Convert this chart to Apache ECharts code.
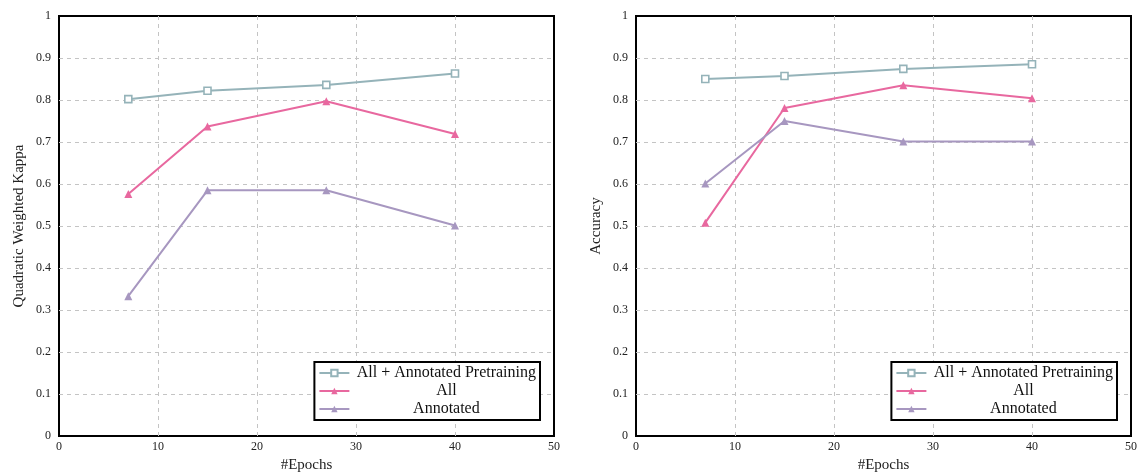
<!DOCTYPE html>
<html>
<head>
<meta charset="utf-8">
<script src="https://cdn.jsdelivr.net/npm/echarts@6/dist/echarts.min.js"></script>
<style>
	html, body { margin: 0; padding: 0; background: #fff; }
	#main { width: 1138px; height: 472px; }
</style>
</head>
<body>
<div id="main"></div>
<script>
	"use strict";
	// DATA
	var epochs = [7, 15, 27, 40];
	var seriesNames = ['All + Annotated Pretraining', 'All', 'Annotated'];
	var kappaPretrain = [0.802, 0.822, 0.836, 0.863];
	var kappaAll = [0.576, 0.737, 0.797, 0.719];
	var kappaAnnotated = [0.333, 0.585, 0.585, 0.501];
	var accPretrain = [0.850, 0.857, 0.874, 0.885];
	var accAll = [0.508, 0.781, 0.835, 0.804];
	var accAnnotated = [0.601, 0.750, 0.701, 0.701];

	var colors = ['#95b3b9', '#e8689f', '#a797c0'];
	var symbols = ['rect', 'triangle', 'triangle'];
	var font = '"Liberation Serif", "DejaVu Serif", serif';

	function pairs(vals) {
		return epochs.map(function(x, i) { return [x, vals[i]]; });
	}

	function makeSeries(idx, sets) {
		return sets.map(function(vals, i) {
			return {
				name: seriesNames[i],
				type: 'line',
				xAxisIndex: idx,
				yAxisIndex: idx,
				data: pairs(vals),
				symbol: symbols[i],
				symbolSize: i === 0 ? 7 : 8,
				lineStyle: { width: 2, color: colors[i] },
				itemStyle: {
					color: i === 0 ? '#fff' : colors[i],
					borderColor: colors[i],
					borderWidth: i === 0 ? 1.6 : 0
				},
				emphasis: { disabled: true },
				animation: false
			};
		});
	}

	var gridLine = { color: '#c4c4c4', type: [4, 4], width: 1 };

	function xAxis(idx) {
		return {
			gridIndex: idx,
			type: 'value',
			min: 0, max: 50, interval: 10,
			name: '#Epochs',
			nameLocation: 'middle',
			nameGap: 22,
			nameTextStyle: { fontFamily: font, fontSize: 15, color: '#222' },
			axisLine: { show: false },
			axisTick: { show: false },
			axisLabel: { fontFamily: font, fontSize: 12, color: '#222', margin: 5 },
			splitLine: { showMinLine: false, showMaxLine: false, lineStyle: gridLine }
		};
	}

	function yAxis(idx, title) {
		return {
			gridIndex: idx,
			type: 'value',
			min: 0, max: 1, interval: 0.1,
			name: title,
			nameLocation: 'middle',
			nameGap: 32,
			nameTextStyle: { fontFamily: font, fontSize: 15, color: '#222' },
			axisLine: { show: false },
			axisTick: { show: false },
			axisLabel: {
				fontFamily: font, fontSize: 12, color: '#222', margin: 8,
				formatter: function(v) { return Math.round(v * 10) / 10 + ''; }
			},
			splitLine: { showMinLine: false, showMaxLine: false, lineStyle: gridLine }
		};
	}

	function legend(right) {
		return {
			show: true,
			orient: 'vertical',
			right: right,
			top: 362,
			itemGap: 2,
			itemWidth: 30,
			itemHeight: 8,
			padding: [3, 4, 3, 4],
			backgroundColor: '#fff',
			borderColor: '#000',
			borderWidth: 2,
			borderRadius: 0,
			selectedMode: false,
			data: seriesNames,
			formatter: function(name) { return '{t|' + name + '}'; },
			textStyle: {
				fontFamily: font, fontSize: 16, color: '#111',
				rich: { t: { fontFamily: font, fontSize: 16, color: '#111', width: 184, align: 'center' } }
			}
		};
	}

	var chart = echarts.init(document.getElementById('main'));
	var gridBase = { top: 16, width: 495, height: 420, show: true, borderColor: '#000', borderWidth: 2,
		backgroundColor: 'transparent', outerBoundsMode: 'none', containLabel: false };
	var option = {
		backgroundColor: '#fff',
		animation: false,
		grid: [
			Object.assign({ left: 59 }, gridBase),
			Object.assign({ left: 636 }, gridBase)
		],
		legend: [legend(1138 - 540), legend(1138 - 1117)],
		xAxis: [xAxis(0), xAxis(1)],
		yAxis: [yAxis(0, 'Quadratic Weighted Kappa'), yAxis(1, 'Accuracy')],
		series: makeSeries(0, [kappaPretrain, kappaAll, kappaAnnotated])
			.concat(makeSeries(1, [accPretrain, accAll, accAnnotated]))
	};
	chart.setOption(option);
</script>
</body>
</html>
